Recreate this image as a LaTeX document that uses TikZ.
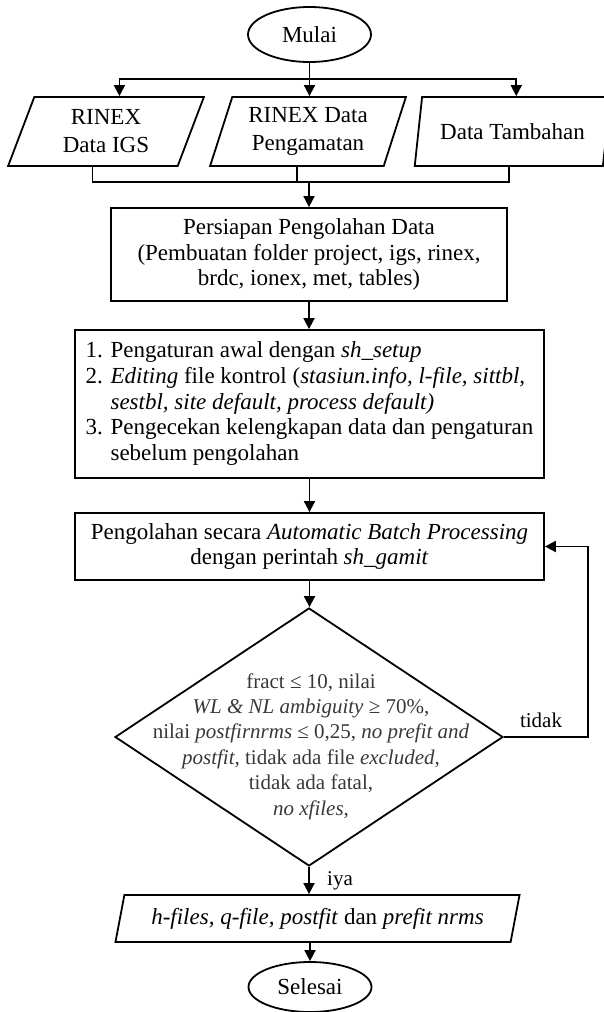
\documentclass[tikz,border=0pt]{standalone}
\usepackage{fontspec}
\setmainfont{Liberation Serif}
\usetikzlibrary{shapes.geometric,arrows.meta}
\begin{document}
\begin{tikzpicture}[x=1pt,y=-1pt,
  every node/.style={font=\fontsize{23}{25.7}\selectfont, inner sep=0pt},
  small/.style={font=\fontsize{21}{25.4}\selectfont},
  lw/.style={line width=1.8pt},
  arr/.style={lw,-{Triangle[length=11pt,width=11pt]}},
  box/.style={draw,lw,rectangle,align=center},
  term/.style={draw,lw,ellipse,minimum width=123pt,minimum height=55pt},
  para/.style={draw,lw,trapezium,trapezium left angle=70,trapezium right angle=110,
    trapezium stretches=true,align=center},
  dia/.style={draw,lw,diamond}]
\useasboundingbox (0,0) rectangle (603,1012);

\node[term] (mulai) at (309.5,34.5) {Mulai};
\node[para, minimum width=196pt, minimum height=69pt] (p1) at (106,131.5) {RINEX\\[2.3pt]Data IGS};
\node[para, minimum width=196pt, minimum height=69pt] (p2) at (308,131.5) {RINEX Data\\[2.3pt]Pengamatan};
\node[para, minimum width=196pt, minimum height=69pt] (p3) at (512.5,131.5) {Data Tambahan};

\node[box, minimum width=396pt, minimum height=93pt] (prep) at (309,254.5)
  {Persiapan Pengolahan Data\\(Pembuatan folder project, igs, rinex,\\brdc, ionex, met, tables)};

\node[box, minimum width=469pt, minimum height=148pt] (steps) at (309.5,404)
  {\begin{tabular}{@{}l@{ }l@{}}
   1.&Pengaturan awal dengan \textit{sh\_setup}\\
   2.&\textit{Editing} file kontrol (\textit{stasiun.info, l-file, sittbl,}\\
     &\textit{sestbl, site default, process default)}\\
   3.&Pengecekan kelengkapan data dan pengaturan\\
     &sebelum pengolahan
   \end{tabular}};

\node[box, minimum width=469pt, minimum height=67pt] (proc) at (309.5,546.5)
  {Pengolahan secara \textit{Automatic Batch Processing}\\dengan perintah \textit{sh\_gamit}};

\node[dia, minimum width=388pt, minimum height=258pt] (dec) at (309,737) {};
\node[small, align=center, text=black!78] (dectext) at (311,746.5)
  {fract ≤ 10, nilai\\
   \textit{WL \& NL ambiguity} ≥ 70\%,\\
   nilai \textit{postfirnrms} ≤ 0,25, \textit{no prefit and}\\
   \textit{postfit,} tidak ada file \textit{excluded},\\
   tidak ada fatal,\\
   \textit{no xfiles},};

\node[para, minimum width=405pt, minimum height=47pt] (out) at (317.5,918.5)
  {\textit{h-files, q-file, postfit} dan \textit{prefit nrms}};
\node[term, minimum height=50pt] (sel) at (310,987) {Selesai};

\coordinate (split) at (309.5,79);
\coordinate (join) at (309,182);
\coordinate (fb) at (588,737);

\draw[arr] (mulai.south) -- (mulai.south |- p2.north);
\draw[arr] (split) -| (p1.top side);
\draw[arr] (split) -| (p3.top side);
\draw[lw] (p1.bottom side) |- (join) -| (p3.bottom side);
\draw[lw] (p2.bottom side) -- (p2.bottom side |- join);
\draw[arr] (join) -- (join |- prep.north);
\draw[arr] (prep.south) -- (prep.south |- steps.north);
\draw[arr] (steps.south) -- (steps.south |- proc.north);
\draw[arr] (proc.south) -- (proc.south |- dec.north);
\draw[arr] (dec.east) -- (fb) |- (proc.east);
\node[small, anchor=base] (tidak) at (541,727) {tidak};
\draw[arr] (dec.south) -- (dec.south |- out.north);
\node[small, anchor=base west] (iya) at (327,885) {iya};
\draw[arr] (sel.north |- out.south) -- (sel.north);
\end{tikzpicture}
\end{document}
